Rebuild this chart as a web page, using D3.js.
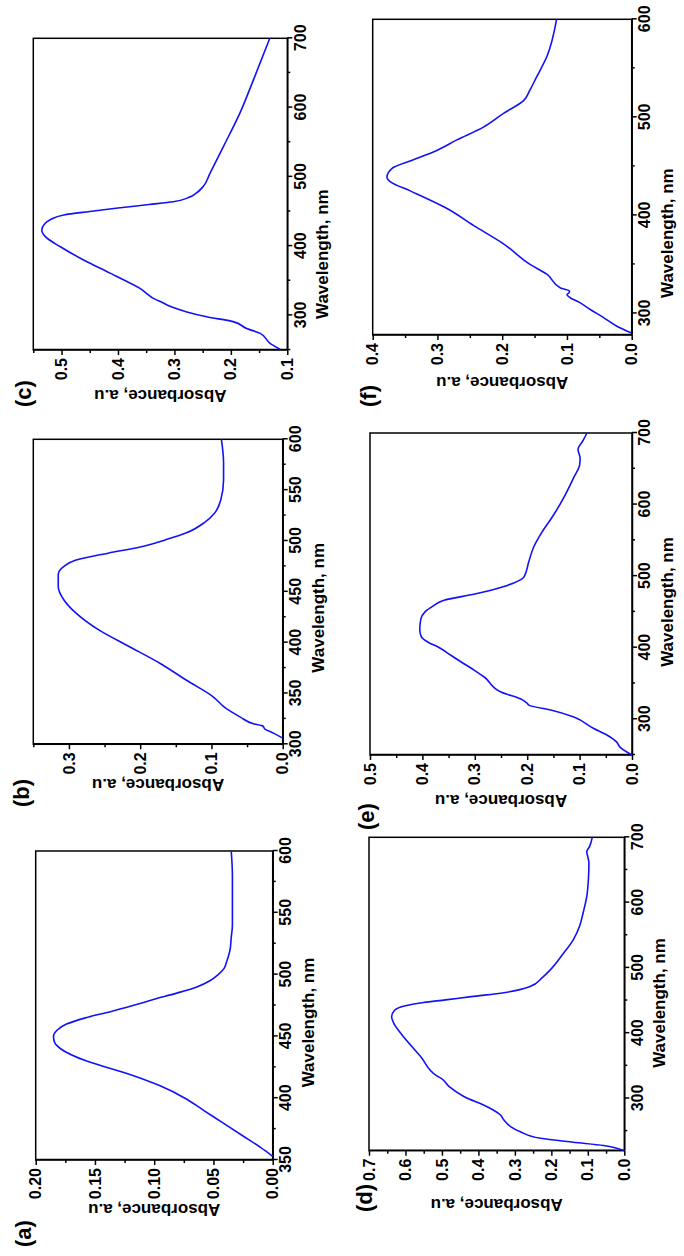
<!DOCTYPE html>
<html>
<head>
<meta charset="utf-8">
<script src="https://cdnjs.cloudflare.com/ajax/libs/d3/7.8.5/d3.min.js"></script>
<style>
body { margin: 0; background: #fff; }
svg text { font-family: "Liberation Sans", Arial, sans-serif; font-weight: bold; fill: #000; }
.axis path, .axis line { stroke: #000; stroke-width: 1.5; }
</style>
</head>
<body>
<div id="fig"></div>
<script>
// page size
var svgWidth = 684;
var svgHeight = 1256;

// panel (a)
var wlA = [353,360,370,380,390,400,410,420,430,440,445,450,455,460,465,470,475,480,485,490,495,500,505,510,520,530,540,560,580,600];
var absA = [0.000,0.010,0.026,0.042,0.058,0.074,0.095,0.123,0.157,0.179,0.184,0.185,0.182,0.174,0.158,0.137,0.118,0.100,0.081,0.064,0.053,0.046,0.041,0.039,0.036,0.035,0.034,0.034,0.034,0.035];
var xTicksA = [350,400,450,500,550,600];
var xMinorA = [375,425,475,525,575];
var yTicksA = [0,0.05,0.10,0.15,0.20];
var yMinorA = [0.025,0.075,0.125,0.175];

// panel (b)
var wlB = [306,311,315,318,320,327,335,347,363,380,396,412,429,442,455,467,475,481,488,494,501,508,518,527,540,560,577,600];
var absB = [0.000,0.013,0.025,0.028,0.040,0.060,0.079,0.098,0.135,0.173,0.215,0.257,0.290,0.307,0.315,0.315,0.307,0.291,0.245,0.200,0.165,0.135,0.110,0.096,0.087,0.083,0.083,0.086];
var xTicksB = [300,350,400,450,500,550,600];
var xMinorB = [325,375,425,475,525,575];
var yTicksB = [0,0.1,0.2,0.3];
var yMinorB = [0.05,0.15,0.25,0.35];

// panel (c)
var wlC = [251,260,274,281,291,298,305,313,320,322,339,361,380,399,414,423,432,438,445,450,455,460,464,470,476,486,505,544,592,640,700];
var absC = [0.113,0.131,0.148,0.172,0.196,0.243,0.278,0.308,0.325,0.331,0.361,0.414,0.461,0.502,0.529,0.535,0.530,0.520,0.496,0.450,0.400,0.345,0.302,0.275,0.262,0.249,0.237,0.213,0.184,0.160,0.131];
var xTicksC = [300,400,500,600,700];
var xMinorC = [250,350,450,550,650];
var yTicksC = [0.1,0.2,0.3,0.4,0.5];
var yMinorC = [0.15,0.25,0.35,0.45,0.55];

// panel (d)
var wlD = [220,228,233,239,249,257,267,275,287,303,318,330,335,364,400,415,425,435,442,447,451,456,462,471,485,497,520,543,565,584,609,640,661,670,678,686,700];
var absD = [0.000,0.057,0.140,0.230,0.285,0.312,0.330,0.340,0.375,0.440,0.480,0.500,0.515,0.558,0.613,0.632,0.638,0.630,0.600,0.550,0.490,0.420,0.330,0.260,0.225,0.203,0.170,0.140,0.122,0.113,0.103,0.098,0.097,0.100,0.103,0.095,0.088];
var xTicksD = [300,400,500,600,700];
var xMinorD = [250,350,450,550,650];
var yTicksD = [0,0.1,0.2,0.3,0.4,0.5,0.6,0.7];
var yMinorD = [0.05,0.15,0.25,0.35,0.45,0.55,0.65];

// panel (e)
var wlE = [250,261,268,278,287,303,313,319,322,327,338,359,368,380,389,401,408,415,425,440,450,458,466,475,487,499,520,540,560,585,610,638,655,665,677,690,700];
var absE = [0.000,0.023,0.029,0.048,0.073,0.111,0.155,0.195,0.200,0.209,0.250,0.282,0.300,0.326,0.345,0.370,0.390,0.402,0.405,0.403,0.395,0.380,0.360,0.300,0.238,0.206,0.197,0.188,0.173,0.150,0.130,0.111,0.100,0.099,0.103,0.093,0.086];
var xTicksE = [300,400,500,600,700];
var xMinorE = [250,350,450,550,650];
var yTicksE = [0,0.1,0.2,0.3,0.4,0.5];
var yMinorE = [0.05,0.15,0.25,0.35,0.45];

// panel (f)
var wlF = [280,287,296,304,311,316,319,321,323,326,340,350,371,388,408,425,434,439,448,456,466,477,490,504,517,528,541,562,600];
var absF = [0.000,0.023,0.044,0.064,0.080,0.095,0.100,0.097,0.096,0.110,0.131,0.157,0.198,0.240,0.288,0.342,0.372,0.378,0.370,0.340,0.302,0.270,0.229,0.198,0.167,0.157,0.147,0.131,0.116];
var xTicksF = [300,400,500,600];
var xMinorF = [350,450,550];
var yTicksF = [0,0.1,0.2,0.3,0.4];
var yMinorF = [0.05,0.15,0.25,0.35];

var panelNames = ["(a)","(b)","(c)","(d)","(e)","(f)"];
var xTitle = "Wavelength, nm";
var yTitle = "Absorbance, a.u";

// the figure is a landscape 3x2 grid printed turned a quarter turn,
// so everything below is laid out in landscape coordinates (1256 x 684)
var panels = [
  {wl: wlA, ab: absA, xt: xTicksA, xm: xMinorA, yt: yTicksA, ym: yMinorA, xd: [350,600], yd: [0,0.20], fmt: ".2f",
   x0: 96, x1: 405, y0: 35.7, y1: 272.7, labX: 9, labY: 31, yTitleOff: 44, xTitleOff: -17},
  {wl: wlB, ab: absB, xt: xTicksB, xm: xMinorB, yt: yTicksB, ym: yMinorB, xd: [300,600], yd: [0,0.35], fmt: ".1f",
   x0: 511.7, x1: 816.7, y0: 33.3, y1: 282.7, labX: 449, labY: 29, yTitleOff: 35, xTitleOff: -16},
  {wl: wlC, ab: absC, xt: xTicksC, xm: xMinorC, yt: yTicksC, ym: yMinorC, xd: [250,700], yd: [0.1,0.55], fmt: ".1f",
   x0: 906, x1: 1217.7, y0: 33.3, y1: 287.3, labX: 849, labY: 31, yTitleOff: 40, xTitleOff: -60},
  {wl: wlD, ab: absD, xt: xTicksD, xm: xMinorD, yt: yTicksD, ym: yMinorD, xd: [220,700], yd: [0,0.7], fmt: ".1f",
   x0: 105.3, x1: 418.7, y0: 369, y1: 624.3, labX: 44, labY: 372, yTitleOff: 48, xTitleOff: -9},
  {wl: wlE, ab: absE, xt: xTicksE, xm: xMinorE, yt: yTicksE, ym: yMinorE, xd: [250,700], yd: [0,0.5], fmt: ".1f",
   x0: 501, x1: 823, y0: 370, y1: 632, labX: 426, labY: 374, yTitleOff: 40, xTitleOff: -8},
  {wl: wlF, ab: absF, xt: xTicksF, xm: xMinorF, yt: yTicksF, ym: yMinorF, xd: [278,600], yd: [0,0.4], fmt: ".1f",
   x0: 921, x1: 1236.7, y0: 372.7, y1: 631.7, labX: 849, labY: 376, yTitleOff: 42, xTitleOff: -56}
];

var svg = d3.select("#fig")
    .append("svg")
    .attr("width", svgWidth)
    .attr("height", svgHeight);

// turn the landscape figure so it reads bottom-to-top
var fig = svg.append("g")
    .attr("transform", `translate(0, ${svgHeight}) rotate(-90)`);

panels.forEach(function(p, i) {
    var x = d3.scaleLinear().domain(p.xd).range([p.x0, p.x1]);
    var y = d3.scaleLinear().domain(p.yd).range([p.y1, p.y0]);
    var g = fig.append("g");

    // frame
    g.append("rect")
      .attr("x", p.x0)
      .attr("y", p.y0)
      .attr("width", p.x1 - p.x0)
      .attr("height", p.y1 - p.y0)
      .attr("fill", "none")
      .attr("stroke", "#000")
      .attr("stroke-width", 1.5);

    // major ticks + labels
    g.append("g")
      .attr("class", "axis")
      .attr("transform", `translate(0, ${p.y1})`)
      .call(d3.axisBottom(x).tickValues(p.xt).tickSize(5).tickSizeOuter(0).tickPadding(2).tickFormat(d3.format("d")))
      .call(s => s.selectAll("text").attr("font-size", 16));

    g.append("g")
      .attr("class", "axis")
      .attr("transform", `translate(${p.x0}, 0)`)
      .call(d3.axisLeft(y).tickValues(p.yt).tickSize(5).tickSizeOuter(0).tickPadding(3).tickFormat(d3.format(p.fmt)))
      .call(s => s.selectAll("text").attr("font-size", 16));

    // minor ticks
    g.append("g")
      .attr("class", "axis")
      .attr("transform", `translate(0, ${p.y1})`)
      .call(d3.axisBottom(x).tickValues(p.xm).tickSize(3).tickSizeOuter(0).tickFormat(""))
      .call(s => s.select(".domain").remove());

    g.append("g")
      .attr("class", "axis")
      .attr("transform", `translate(${p.x0}, 0)`)
      .call(d3.axisLeft(y).tickValues(p.ym).tickSize(3).tickSizeOuter(0).tickFormat(""))
      .call(s => s.select(".domain").remove());

    // spectrum
    var line = d3.line()
      .x((d, j) => x(p.wl[j]))
      .y(d => y(d))
      .curve(d3.curveMonotoneX);

    g.append("path")
      .datum(p.ab)
      .attr("d", line)
      .attr("fill", "none")
      .attr("stroke", "#1212f5")
      .attr("stroke-width", 1.6);

    // axis titles
    g.append("text")
      .attr("x", (p.x0 + p.x1) / 2 + p.xTitleOff)
      .attr("y", p.y1 + 41)
      .attr("text-anchor", "middle")
      .attr("font-size", 17)
      .text(xTitle);

    g.append("text")
      .attr("transform", `translate(${p.x0 - p.yTitleOff}, ${(p.y0 + p.y1) / 2}) rotate(-90)`)
      .attr("text-anchor", "middle")
      .attr("font-size", 17)
      .text(yTitle);

    // panel letter
    g.append("text")
      .attr("x", p.labX)
      .attr("y", p.labY)
      .attr("font-size", 22)
      .text(panelNames[i]);
});
</script>
</body>
</html>
